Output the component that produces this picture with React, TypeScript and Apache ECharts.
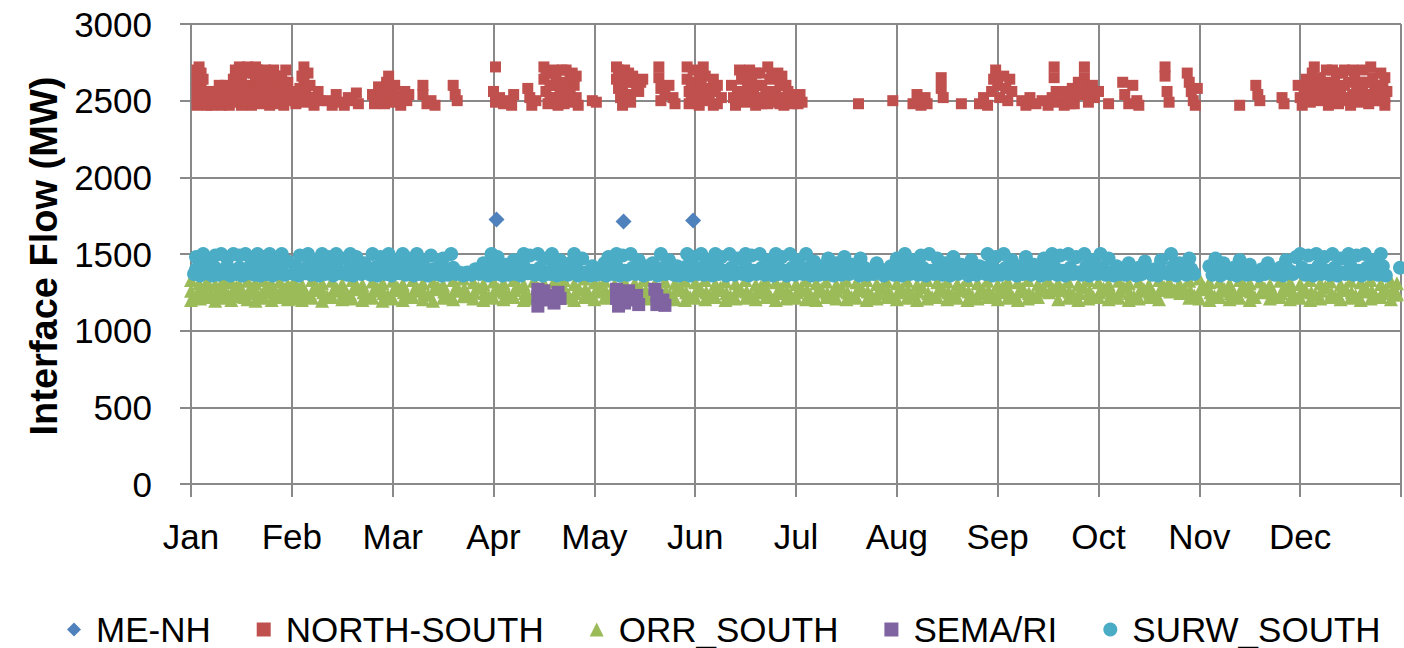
import React, { useEffect, useRef } from "react";
import * as echarts from "echarts";

const months = ["Jan", "Feb", "Mar", "Apr", "May", "Jun", "Jul", "Aug", "Sep", "Oct", "Nov", "Dec"];
const seriesNames = ["ME-NH", "NORTH-SOUTH", "ORR_SOUTH", "SEMA/RI", "SURW_SOUTH"];

// x = month position (0 = Jan 1, 12 = Dec 31), y = MW
const meNh: number[][] = [[3.03, 1725], [4.29, 1712], [4.98, 1718]];

const northSouth: number[][] = [
  [0.06,2700],[0.06,2640],[0.06,2580],[0.06,2520],[0.06,2470],[0.1,2680],[0.1,2600],[0.1,2540],[0.1,2480],[0.14,2560],[0.14,2500],[0.18,2520],[0.2,2470],[0.24,2560],[0.26,2500],[0.3,2540],[0.3,2470],[0.34,2600],[0.36,2520],[0.38,2470],[0.42,2640],[0.42,2560],[0.44,2700],[0.44,2490],[0.48,2720],[0.48,2620],[0.5,2550],[0.5,2470],[0.54,2700],[0.54,2600],[0.56,2520],[0.58,2680],[0.6,2470],[0.6,2580],[0.64,2720],[0.64,2640],[0.66,2540],[0.68,2480],[0.7,2600],[0.74,2700],[0.74,2520],[0.76,2640],[0.78,2470],[0.8,2560],[0.82,2700],[0.84,2620],[0.86,2500],[0.88,2580],[0.9,2660],[0.92,2470],[0.94,2540],[0.96,2620],
  [1.04,2540],[1.04,2480],[1.08,2580],[1.12,2720],[1.12,2640],[1.14,2560],[1.14,2490],[1.18,2600],[1.2,2520],[1.22,2470],[1.26,2560],[1.28,2500],
  [1.36,2500],[1.4,2470],[1.44,2540],[1.48,2490],[1.52,2470],[1.56,2520],[1.6,2500],[1.64,2550],[1.66,2480],
  [1.8,2540],[1.82,2480],[1.86,2590],[1.9,2520],[1.94,2620],[1.96,2660],[1.98,2560],[2.0,2490],[2.02,2600],[2.06,2530],[2.08,2470],[2.12,2560],[2.14,2500],[2.16,2540],
  [2.3,2600],[2.3,2540],[2.34,2480],[2.38,2500],[2.42,2470],
  [2.6,2600],[2.62,2540],[2.64,2500],
  [3.02,2720],[3.0,2560],[3.02,2490],[3.06,2520],[3.1,2480],[3.14,2500],[3.18,2470],[3.2,2540],
  [3.34,2580],[3.36,2520],[3.38,2470],[3.42,2500],
  [3.5,2720],[3.5,2640],[3.52,2560],[3.54,2480],[3.58,2680],[3.6,2600],[3.62,2520],[3.64,2470],[3.68,2700],[3.7,2620],[3.72,2540],[3.74,2490],[3.78,2680],[3.8,2600],[3.82,2520],[3.84,2470],
  [3.98,2500],[4.02,2490],
  [4.22,2720],[4.22,2640],[4.24,2580],[4.26,2520],[4.28,2470],[4.3,2700],[4.32,2620],[4.34,2540],[4.36,2490],[4.38,2660],[4.42,2600],[4.44,2560],[4.48,2640],
  [4.64,2720],[4.64,2650],[4.66,2580],[4.66,2500],[4.7,2540],[4.74,2600],[4.78,2520],[4.8,2480],
  [4.92,2720],[4.92,2640],[4.94,2560],[4.94,2480],[4.98,2700],[5.0,2620],[5.02,2540],[5.04,2470],[5.08,2720],[5.1,2660],[5.12,2580],[5.14,2500],[5.18,2640],[5.2,2560],[5.22,2480],[5.26,2520],
  [5.36,2600],[5.38,2520],[5.4,2470],[5.44,2700],[5.46,2640],[5.48,2560],[5.5,2490],[5.54,2700],[5.56,2620],[5.58,2540],[5.6,2470],[5.64,2680],[5.66,2600],[5.68,2520],[5.72,2720],[5.74,2640],[5.76,2560],[5.78,2490],[5.82,2680],[5.84,2600],[5.86,2520],[5.88,2470],[5.92,2560],[5.94,2500],[5.98,2540],[6.02,2480],[6.06,2490],
  [6.62,2480],[6.96,2500],
  [7.16,2480],[7.2,2540],[7.24,2470],[7.28,2520],[7.3,2480],
  [7.44,2650],[7.44,2580],[7.46,2520],[7.64,2480],
  [7.82,2480],[7.86,2520],[7.9,2470],[7.94,2560],[7.96,2640],[7.98,2700],[8.0,2600],[8.02,2520],[8.06,2660],[8.08,2580],[8.1,2500],[8.12,2640],[8.14,2560],
  [8.24,2500],[8.28,2470],[8.32,2520],[8.38,2480],[8.44,2500],[8.5,2470],[8.54,2520],
  [8.56,2720],[8.56,2650],[8.58,2560],[8.6,2490],
  [8.66,2470],[8.7,2520],[8.74,2580],[8.76,2480],[8.8,2620],[8.82,2540],[8.86,2720],[8.86,2650],[8.88,2560],[8.9,2490],[8.94,2600],[8.96,2520],[9.0,2560],
  [9.1,2480],[9.24,2620],[9.26,2540],[9.3,2480],[9.34,2600],[9.38,2500],[9.4,2470],
  [9.66,2720],[9.66,2660],[9.68,2560],[9.7,2490],
  [9.88,2680],[9.9,2620],[9.92,2560],[9.94,2500],[9.96,2470],[9.98,2580],
  [10.4,2470],[10.56,2600],[10.58,2540],[10.6,2500],[10.82,2520],[10.84,2480],
  [10.98,2600],[11.0,2520],[11.02,2470],[11.06,2640],[11.08,2560],[11.1,2490],[11.14,2720],[11.16,2650],[11.18,2580],[11.2,2500],[11.24,2620],[11.26,2540],[11.28,2470],[11.32,2700],[11.34,2620],[11.36,2540],[11.38,2480],[11.42,2680],[11.44,2600],[11.46,2520],[11.5,2470],[11.54,2640],[11.56,2560],[11.58,2490],[11.62,2700],[11.64,2620],[11.66,2540],[11.7,2720],[11.72,2650],[11.74,2570],[11.76,2500],[11.8,2680],[11.82,2600],[11.84,2520],[11.84,2470]
];

const northSouthDense: number[][] = [
  [0.08,2720],[0.08,2560],[0.12,2640],[0.12,2520],[0.16,2470],[0.2,2560],[0.22,2500],[0.28,2600],[0.32,2500],[0.36,2560],[0.4,2520],[0.44,2600],[0.46,2540],[0.46,2680],[0.5,2660],[0.52,2600],[0.52,2500],[0.56,2720],[0.58,2560],[0.62,2680],[0.62,2520],[0.66,2700],[0.68,2600],[0.7,2500],[0.72,2660],[0.72,2560],[0.76,2500],[0.78,2600],[0.8,2680],[0.82,2520],[0.86,2660],[0.88,2480],[0.9,2560],[0.92,2620],[0.94,2700],[0.96,2500],[0.98,2560],
  [1.06,2520],[1.1,2500],[1.1,2660],[1.16,2680],[1.16,2520],[1.24,2520],
  [1.84,2520],[1.88,2560],[1.92,2480],[1.96,2600],[2.0,2560],[2.04,2500],[2.1,2520],
  [3.52,2680],[3.56,2600],[3.56,2520],[3.6,2700],[3.62,2660],[3.66,2560],[3.7,2480],[3.72,2700],[3.76,2560],[3.76,2640],[3.8,2500],[3.82,2660],
  [4.24,2700],[4.26,2640],[4.28,2560],[4.3,2500],[4.34,2680],[4.4,2620],[4.46,2620],
  [4.96,2600],[4.96,2520],[5.0,2500],[5.04,2680],[5.06,2600],[5.1,2540],[5.16,2560],[5.18,2470],[5.22,2600],
  [5.42,2560],[5.44,2500],[5.5,2660],[5.52,2600],[5.54,2520],[5.6,2680],[5.62,2600],[5.66,2480],[5.7,2560],[5.72,2480],[5.76,2660],[5.8,2540],[5.84,2480],[5.86,2660],[5.9,2600],[5.96,2480],[6.0,2520],[6.04,2540],
  [8.68,2560],[8.72,2480],[8.78,2540],[8.84,2600],[8.92,2540],
  [11.04,2540],[11.08,2620],[11.12,2520],[11.12,2680],[11.2,2640],[11.22,2560],[11.26,2700],[11.3,2600],[11.3,2500],[11.36,2680],[11.4,2560],[11.4,2500],[11.44,2700],[11.48,2620],[11.52,2540],[11.52,2700],[11.58,2620],[11.6,2520],[11.62,2560],[11.68,2480],[11.68,2620],[11.72,2520],[11.78,2580],[11.8,2500],[11.84,2650],[11.86,2560]
];

const orrSouth: number[][] = [
  [0.0,1330],[0.0,1260],[0.0,1200],[0.08,1310],[0.08,1250],[0.09,1210],[0.16,1320],[0.17,1270],[0.16,1220],[0.24,1300],[0.25,1240],[0.24,1195],[0.32,1330],[0.33,1260],[0.32,1215],[0.4,1315],[0.41,1250],[0.4,1200],[0.48,1300],[0.49,1270],[0.48,1225],[0.56,1325],[0.57,1255],[0.56,1205],[0.64,1310],[0.65,1245],[0.64,1195],[0.72,1330],[0.73,1265],[0.72,1215],[0.8,1305],[0.81,1250],[0.8,1200],[0.88,1320],[0.89,1260],[0.88,1220],[0.96,1300],[0.97,1240],[0.96,1205],
  [1.02,1320],[1.03,1255],[1.02,1210],[1.1,1300],[1.11,1245],[1.1,1200],[1.2,1330],[1.21,1265],[1.2,1215],[1.3,1310],[1.31,1250],[1.3,1195],[1.4,1325],[1.41,1260],[1.4,1220],[1.5,1305],[1.51,1240],[1.5,1205],[1.6,1330],[1.61,1270],[1.6,1210],[1.7,1300],[1.71,1250],[1.7,1200],[1.8,1320],[1.81,1260],[1.8,1215],[1.9,1310],[1.91,1245],[1.9,1195],
  [2.0,1325],[2.01,1265],[2.0,1210],[2.1,1305],[2.11,1250],[2.1,1200],[2.2,1330],[2.21,1260],[2.2,1220],[2.3,1310],[2.31,1240],[2.3,1205],[2.4,1320],[2.41,1270],[2.4,1195],[2.5,1300],[2.51,1255],[2.5,1215],[2.6,1330],[2.61,1260],[2.6,1205],[2.7,1340],[2.71,1275],[2.7,1225],[2.8,1315],[2.81,1250],[2.8,1210],[2.9,1305],[2.91,1245],[2.9,1200],
  [3.0,1320],[3.01,1260],[3.0,1215],[3.1,1310],[3.11,1250],[3.1,1205],[3.2,1330],[3.21,1265],[3.2,1220],[3.3,1300],[3.31,1245],[3.3,1200],[3.4,1325],[3.41,1255],[3.4,1210],[3.5,1310],[3.51,1260],[3.6,1320],[3.61,1250],[3.7,1330],[3.71,1265],[3.7,1215],[3.8,1305],[3.81,1245],[3.8,1200],[3.9,1340],[3.91,1270],[3.9,1220],
  [4.0,1315],[4.01,1255],[4.0,1205],[4.1,1325],[4.11,1260],[4.1,1215],[4.2,1300],[4.21,1250],[4.3,1320],[4.31,1265],[4.4,1310],[4.41,1245],[4.5,1330],[4.51,1260],[4.5,1210],[4.6,1305],[4.61,1250],[4.7,1320],[4.71,1255],[4.8,1310],[4.81,1265],[4.8,1205],[4.9,1325],[4.91,1250],[4.9,1200],
  [5.0,1315],[5.01,1260],[5.0,1215],[5.1,1330],[5.11,1250],[5.1,1205],[5.2,1305],[5.21,1265],[5.2,1220],[5.3,1320],[5.31,1245],[5.3,1200],[5.4,1310],[5.41,1260],[5.4,1210],[5.5,1330],[5.51,1255],[5.5,1215],[5.6,1300],[5.61,1250],[5.6,1205],[5.7,1325],[5.71,1265],[5.7,1220],[5.8,1315],[5.81,1245],[5.8,1200],[5.9,1320],[5.91,1260],[5.9,1210],
  [6.0,1305],[6.01,1250],[6.0,1215],[6.1,1330],[6.11,1265],[6.1,1205],[6.2,1310],[6.21,1255],[6.2,1200],[6.3,1320],[6.31,1245],[6.3,1220],[6.4,1300],[6.41,1260],[6.4,1210],[6.5,1325],[6.51,1250],[6.5,1205],[6.6,1315],[6.61,1265],[6.6,1215],[6.7,1330],[6.71,1255],[6.7,1200],[6.8,1305],[6.81,1245],[6.8,1210],[6.9,1320],[6.91,1260],[6.9,1220],
  [7.0,1310],[7.01,1250],[7.0,1205],[7.1,1325],[7.11,1265],[7.1,1215],[7.2,1300],[7.21,1255],[7.2,1200],[7.3,1330],[7.31,1245],[7.3,1210],[7.4,1315],[7.41,1260],[7.4,1220],[7.5,1320],[7.51,1250],[7.5,1205],[7.6,1305],[7.61,1265],[7.6,1215],[7.7,1330],[7.71,1255],[7.7,1200],[7.8,1310],[7.81,1245],[7.8,1210],[7.9,1325],[7.91,1260],[7.9,1220],
  [8.0,1300],[8.01,1250],[8.0,1205],[8.1,1320],[8.11,1265],[8.1,1215],[8.2,1315],[8.21,1255],[8.2,1200],[8.3,1330],[8.31,1245],[8.3,1210],[8.4,1305],[8.41,1260],[8.4,1220],[8.5,1325],[8.51,1250],[8.6,1310],[8.61,1265],[8.6,1205],[8.7,1320],[8.71,1255],[8.7,1215],[8.8,1300],[8.81,1245],[8.8,1200],[8.9,1330],[8.91,1260],[8.9,1210],
  [9.0,1315],[9.01,1250],[9.0,1220],[9.1,1305],[9.11,1265],[9.1,1205],[9.2,1325],[9.21,1255],[9.2,1215],[9.3,1310],[9.31,1245],[9.3,1200],[9.4,1320],[9.41,1260],[9.4,1210],[9.5,1300],[9.51,1250],[9.5,1220],[9.6,1330],[9.61,1265],[9.6,1205],[9.7,1315],[9.71,1255],[9.8,1305],[9.81,1245],[9.9,1325],[9.91,1260],[9.9,1215],
  [10.0,1340],[10.01,1270],[10.0,1210],[10.1,1315],[10.11,1250],[10.1,1200],[10.2,1320],[10.21,1260],[10.2,1220],[10.3,1305],[10.31,1245],[10.3,1205],[10.4,1330],[10.41,1265],[10.4,1215],[10.5,1310],[10.51,1255],[10.5,1200],[10.6,1320],[10.61,1250],[10.7,1300],[10.71,1260],[10.7,1210],[10.8,1325],[10.81,1245],[10.8,1220],[10.9,1315],[10.91,1265],[10.9,1205],
  [11.0,1305],[11.01,1255],[11.0,1215],[11.1,1330],[11.11,1250],[11.1,1200],[11.2,1310],[11.21,1260],[11.2,1210],[11.3,1320],[11.31,1245],[11.3,1220],[11.4,1300],[11.41,1265],[11.4,1205],[11.5,1325],[11.51,1250],[11.5,1215],[11.6,1315],[11.61,1255],[11.6,1200],[11.7,1330],[11.71,1260],[11.7,1210],[11.8,1305],[11.81,1245],[11.8,1220],[11.9,1320],[11.91,1260],[11.9,1205],[11.96,1310],[11.96,1240]
];

const orrSouthDense: number[][] = [
  [0.05,1230],[0.13,1280],[0.21,1225],[0.29,1270],[0.37,1235],[0.45,1285],[0.53,1220],[0.61,1275],[0.69,1230],[0.77,1280],[0.85,1225],[0.93,1270],
  [1.06,1275],[1.15,1230],[1.25,1280],[1.35,1225],[1.45,1270],[1.55,1235],[1.65,1285],[1.75,1220],[1.85,1275],[1.95,1230],
  [2.05,1280],[2.15,1225],[2.25,1270],[2.35,1235],[2.45,1285],[2.55,1220],[2.65,1275],[2.75,1230],[2.85,1280],[2.95,1225],
  [3.05,1270],[3.15,1235],[3.25,1285],[3.35,1220],[3.45,1275],[3.55,1230],[3.65,1280],[3.75,1225],[3.85,1270],[3.95,1235],
  [4.05,1285],[4.15,1220],[4.25,1275],[4.35,1230],[4.45,1280],[4.55,1225],[4.65,1270],[4.75,1235],[4.85,1285],[4.95,1220],
  [5.05,1275],[5.15,1230],[5.25,1280],[5.35,1225],[5.45,1270],[5.55,1235],[5.65,1285],[5.75,1220],[5.85,1275],[5.95,1230],
  [6.05,1280],[6.15,1225],[6.25,1270],[6.35,1235],[6.45,1285],[6.55,1220],[6.65,1275],[6.75,1230],[6.85,1280],[6.95,1225],
  [7.05,1270],[7.15,1235],[7.25,1285],[7.35,1220],[7.45,1275],[7.55,1230],[7.65,1280],[7.75,1225],[7.85,1270],[7.95,1235],
  [8.05,1285],[8.15,1220],[8.25,1275],[8.35,1230],[8.45,1280],[8.55,1270],[8.65,1270],[8.75,1235],[8.85,1285],[8.95,1220],
  [9.05,1275],[9.15,1230],[9.25,1280],[9.35,1225],[9.45,1270],[9.55,1235],[9.65,1285],[9.75,1265],[9.85,1275],[9.95,1230],
  [10.05,1280],[10.15,1225],[10.25,1270],[10.35,1235],[10.45,1285],[10.55,1220],[10.65,1275],[10.75,1230],[10.85,1280],[10.95,1225],
  [11.05,1270],[11.15,1235],[11.25,1285],[11.35,1220],[11.45,1275],[11.55,1230],[11.65,1280],[11.75,1225],[11.85,1270],[11.95,1235]
];

const semaRi: number[][] = [
  [3.44,1270],[3.44,1220],[3.44,1160],[3.5,1260],[3.5,1200],[3.54,1230],[3.6,1180],[3.64,1250],[3.66,1210],
  [4.22,1270],[4.22,1210],[4.24,1160],[4.28,1240],[4.3,1180],[4.34,1260],[4.38,1200],[4.42,1230],[4.44,1170],
  [4.6,1270],[4.62,1230],[4.62,1170],[4.68,1200],[4.7,1165]
];

const surwSouth: number[][] = [
  [0.05,1480],[0.05,1400],[0.12,1500],[0.12,1420],[0.18,1460],[0.18,1380],[0.24,1490],[0.24,1410],[0.3,1500],[0.3,1390],[0.36,1470],[0.36,1420],[0.42,1500],[0.42,1380],[0.48,1490],[0.48,1410],[0.54,1500],[0.54,1400],[0.6,1460],[0.6,1380],[0.66,1500],[0.66,1420],[0.72,1480],[0.72,1390],[0.78,1500],[0.78,1410],[0.84,1470],[0.84,1380],[0.9,1500],[0.9,1420],[0.96,1450],
  [1.04,1420],[1.08,1490],[1.1,1390],[1.16,1500],[1.16,1420],[1.22,1460],[1.24,1380],[1.3,1500],[1.3,1410],[1.36,1480],[1.38,1390],[1.44,1500],[1.44,1420],[1.5,1470],[1.52,1380],[1.58,1500],[1.58,1410],[1.64,1480],[1.66,1400],[1.72,1440],[1.76,1390],
  [1.8,1500],[1.82,1410],[1.88,1480],[1.9,1390],[1.96,1500],[1.96,1420],[2.02,1460],[2.04,1380],[2.1,1500],[2.1,1410],[2.16,1470],[2.18,1390],[2.24,1500],[2.24,1420],[2.3,1450],[2.32,1380],[2.38,1490],[2.4,1400],[2.46,1420],[2.5,1470],[2.52,1390],
  [2.58,1500],[2.6,1410],[2.66,1380],[2.74,1380],[2.82,1400],[2.9,1440],[2.92,1390],[2.98,1500],[3.0,1420],[3.04,1480],[3.06,1390],[3.12,1430],[3.16,1380],[3.2,1460],[3.24,1400],[3.3,1500],[3.3,1420],[3.36,1490],[3.38,1390],[3.44,1500],[3.46,1410],[3.52,1470],[3.54,1380],[3.58,1500],[3.6,1420],[3.66,1460],[3.7,1390],
  [3.76,1440],[3.8,1500],[3.82,1410],[3.88,1470],[3.92,1380],[3.98,1420],[4.04,1390],[4.1,1440],[4.14,1480],[4.16,1390],[4.22,1500],[4.22,1420],[4.28,1490],[4.3,1390],[4.36,1500],[4.38,1410],[4.44,1460],[4.46,1380],[4.52,1420],[4.58,1440],[4.6,1390],[4.66,1500],[4.68,1410],[4.74,1460],[4.76,1380],[4.82,1420],[4.86,1390],
  [4.92,1500],[4.92,1420],[4.98,1480],[5.0,1390],[5.06,1500],[5.06,1410],[5.12,1460],[5.14,1380],[5.2,1500],[5.2,1420],[5.26,1480],[5.28,1390],[5.34,1500],[5.36,1410],[5.42,1470],[5.44,1380],[5.5,1500],[5.5,1420],[5.56,1490],[5.58,1390],[5.64,1500],[5.66,1410],[5.72,1460],[5.74,1380],[5.8,1500],[5.8,1420],[5.86,1480],[5.88,1390],[5.94,1500],[5.96,1410],
  [6.02,1460],[6.04,1380],[6.1,1500],[6.12,1410],[6.18,1450],[6.2,1380],[6.26,1420],[6.32,1470],[6.34,1390],[6.4,1440],[6.42,1380],[6.48,1480],[6.5,1400],[6.56,1430],[6.6,1380],[6.64,1470],[6.68,1410],[6.74,1380],[6.8,1440],[6.84,1400],[6.9,1380],[6.94,1420],
  [7.0,1470],[7.02,1390],[7.08,1500],[7.1,1420],[7.16,1460],[7.18,1380],[7.24,1490],[7.26,1410],[7.32,1500],[7.34,1390],[7.4,1470],[7.42,1420],[7.48,1440],[7.5,1380],[7.56,1480],[7.58,1400],[7.64,1430],[7.68,1380],[7.74,1460],[7.76,1400],[7.82,1420],[7.86,1390],[7.9,1500],[7.92,1420],
  [7.98,1480],[8.0,1390],[8.06,1500],[8.08,1410],[8.14,1460],[8.16,1380],[8.22,1420],[8.28,1480],[8.3,1390],[8.36,1430],[8.4,1380],[8.46,1470],[8.48,1400],[8.54,1500],[8.56,1420],[8.62,1490],[8.64,1390],[8.7,1500],[8.72,1410],[8.78,1480],[8.8,1380],[8.86,1500],[8.88,1420],[8.94,1460],[8.96,1390],
  [9.02,1500],[9.04,1410],[9.1,1470],[9.12,1380],[9.18,1420],[9.24,1390],[9.3,1440],[9.34,1380],[9.4,1410],[9.46,1450],[9.5,1390],[9.56,1400],[9.62,1460],[9.66,1380],[9.72,1500],[9.74,1420],[9.8,1440],[9.84,1390],[9.9,1470],[9.92,1400],
  [10.1,1420],[10.16,1470],[10.18,1390],[10.24,1440],[10.28,1380],[10.34,1410],[10.4,1460],[10.44,1390],[10.5,1430],[10.56,1380],[10.62,1400],[10.68,1440],[10.72,1390],[10.8,1410],[10.86,1460],[10.9,1390],[10.96,1480],
  [11.0,1500],[11.02,1410],[11.08,1490],[11.1,1390],[11.16,1500],[11.18,1420],[11.24,1480],[11.26,1390],[11.32,1500],[11.34,1410],[11.4,1470],[11.42,1380],[11.48,1500],[11.5,1420],[11.56,1490],[11.58,1390],[11.64,1500],[11.66,1410],[11.72,1460],[11.74,1380],[11.8,1500],[11.82,1420],[11.99,1410]
];

const surwSouthLow: number[][] = [
  [0.03,1370],[0.09,1360],[0.15,1375],[0.21,1360],[0.27,1365],[0.33,1375],[0.39,1360],[0.45,1370],[0.51,1360],[0.57,1375],[0.63,1365],[0.69,1360],[0.75,1370],[0.81,1360],[0.87,1375],[0.93,1365],
  [1.02,1370],[1.07,1360],[1.13,1375],[1.19,1365],[1.27,1360],[1.33,1370],[1.41,1360],[1.47,1375],[1.55,1365],[1.61,1360],[1.69,1370],[1.78,1365],
  [1.85,1360],[1.93,1370],[1.99,1360],[2.07,1375],[2.13,1365],[2.21,1360],[2.27,1370],[2.35,1360],[2.43,1370],[2.49,1360],[2.55,1365],[2.63,1370],[2.7,1360],[2.78,1365],[2.86,1370],[2.95,1360],
  [3.02,1370],[3.09,1360],[3.15,1365],[3.22,1370],[3.27,1360],[3.34,1375],[3.41,1365],[3.49,1360],[3.56,1370],[3.63,1360],[3.68,1370],[3.74,1365],[3.84,1360],[3.9,1370],[3.96,1360],
  [4.02,1365],[4.07,1370],[4.12,1360],[4.19,1370],[4.25,1360],[4.33,1365],[4.41,1370],[4.49,1360],[4.55,1370],[4.63,1360],[4.71,1370],[4.79,1365],[4.84,1360],[4.89,1370],
  [4.95,1360],[5.03,1370],[5.09,1365],[5.17,1360],[5.23,1370],[5.31,1360],[5.39,1365],[5.47,1370],[5.53,1360],[5.61,1370],[5.69,1365],[5.77,1360],[5.83,1370],[5.91,1360],[5.99,1365],
  [6.07,1370],[6.15,1360],[6.23,1365],[6.29,1370],[6.37,1360],[6.45,1365],[6.53,1370],[6.63,1360],[6.71,1365],[6.77,1370],[6.87,1360],[6.97,1365],
  [7.05,1360],[7.13,1370],[7.21,1365],[7.29,1360],[7.37,1370],[7.45,1365],[7.53,1360],[7.61,1370],[7.71,1360],[7.79,1365],[7.88,1370],[7.95,1360],
  [8.03,1365],[8.11,1370],[8.19,1360],[8.25,1370],[8.33,1365],[8.43,1360],[8.51,1370],[8.59,1365],[8.67,1360],[8.75,1370],[8.83,1365],[8.91,1360],[8.99,1370],
  [9.07,1365],[9.15,1360],[9.21,1370],[9.27,1365],[9.37,1360],[9.43,1370],[9.53,1365],[9.59,1360],[9.69,1370],[9.77,1360],[9.87,1365],[9.95,1370],
  [10.13,1365],[10.21,1360],[10.31,1370],[10.37,1360],[10.47,1365],[10.53,1370],[10.59,1360],[10.65,1370],[10.75,1365],[10.83,1360],[10.93,1370],
  [11.05,1365],[11.13,1360],[11.21,1370],[11.29,1365],[11.37,1360],[11.45,1370],[11.53,1365],[11.61,1360],[11.69,1370],[11.77,1365],[11.85,1360]
];

const FONT = "Liberation Sans";
const GRID_COLOR = "#898989";

export default function App() {
  const ref = useRef<HTMLDivElement>(null);
  useEffect(() => {
    if (!ref.current) return;
    const chart = echarts.init(ref.current, null, { renderer: "svg" });
    const mk = (name: string, data: number[][], symbol: string, size: number, color: string) => ({
      name,
      type: "scatter",
      data,
      symbol,
      symbolSize: size,
      clip: false,
      itemStyle: { color, opacity: 1 },
      emphasis: { disabled: true },
    });
    chart.setOption({
      animation: false,
      textStyle: { fontFamily: FONT },
      grid: { left: 191, right: 3, top: 24, bottom: 164, containLabel: false },
      xAxis: {
        type: "value",
        min: 0,
        max: 12,
        interval: 1,
        axisLine: { show: true, lineStyle: { color: GRID_COLOR, width: 2 } },
        axisTick: { show: true, length: 13, lineStyle: { color: GRID_COLOR, width: 2 } },
        splitLine: { show: true, lineStyle: { color: GRID_COLOR, width: 2 } },
        axisLabel: {
          color: "#000",
          fontSize: 35,
          fontFamily: FONT,
          margin: 35,
          formatter: (v: number) => (v >= 0 && v < 12 ? months[Math.round(v)] : ""),
        },
      },
      yAxis: {
        type: "value",
        min: 0,
        max: 3000,
        interval: 500,
        axisLine: { show: true, lineStyle: { color: GRID_COLOR, width: 2 } },
        axisTick: { show: true, length: 11, lineStyle: { color: GRID_COLOR, width: 2 } },
        splitLine: { show: true, lineStyle: { color: GRID_COLOR, width: 2 } },
        axisLabel: { color: "#000", fontSize: 35, fontFamily: FONT, margin: 39, formatter: (v: number) => String(v) },
      },
      legend: {
        data: seriesNames,
        top: 607,
        left: 62,
        itemWidth: 14,
        itemHeight: 14,
        itemGap: 46,
        textStyle: { color: "#000", fontSize: 35, fontFamily: FONT, padding: [0, 0, 0, 10] },
      },
      graphic: [
        {
          type: "text",
          x: 44,
          y: 256,
          rotation: Math.PI / 2,
          style: {
            text: "Interface Flow (MW)",
            fontSize: 38,
            fontWeight: "bold",
            fontFamily: FONT,
            fill: "#000",
            align: "center",
            verticalAlign: "middle",
          },
        },
      ],
      series: [
        mk(seriesNames[0], meNh, "diamond", 16, "#4F81BD"),
        mk(seriesNames[1], northSouth.concat(northSouthDense), "rect", 11, "#C0504D"),
        mk(seriesNames[2], orrSouth.concat(orrSouthDense), "triangle", 14, "#9BBB59"),
        mk(seriesNames[3], semaRi, "rect", 13, "#8064A2"),
        mk(seriesNames[4], surwSouth.concat(surwSouthLow), "circle", 14, "#4BACC6"),
      ],
    });
    return () => chart.dispose();
  }, []);
  return <div ref={ref} style={{ position: "fixed", left: 0, top: 0, width: 1404, height: 648, background: "#fff" }} />;
}
